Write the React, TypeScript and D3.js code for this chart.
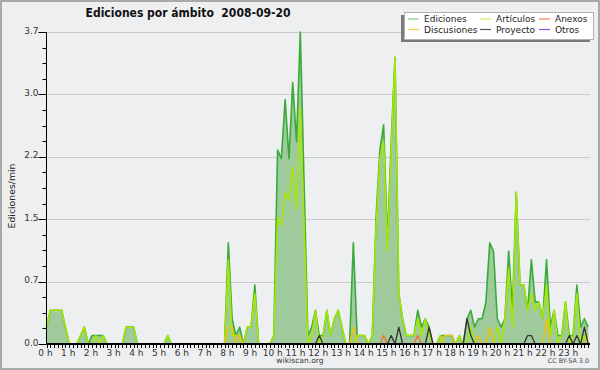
import { useRef, useEffect } from 'react';
import * as d3 from 'd3';

// edits per minute, 10-minute bins, 2008-09-20 (two hours per row)
const ediciones = [
  0.2, 0.4, 0.4, 0.4, 0.4, 0.2, 0, 0, 0, 0.1, 0.2, 0,
  0.1, 0.1, 0.1, 0.1, 0, 0, 0, 0, 0, 0.2, 0.2, 0.2,
  0, 0, 0, 0, 0, 0, 0, 0, 0.1, 0, 0, 0,
  0, 0, 0, 0, 0, 0, 0, 0, 0, 0, 0, 0,
  1.2, 0.3, 0.1, 0.2, 0, 0.2, 0.2, 0.7, 0, 0, 0, 0,
  0.1, 2.3, 2.2, 2.9, 2.2, 3.1, 2.4, 3.7, 1.9, 0.1, 0.2, 0.4,
  0.1, 0.1, 0.4, 0.1, 0.3, 0.4, 0.2, 0, 0, 1.2, 0.1, 0.1,
  0.1, 0, 0.1, 1.5, 2.3, 2.6, 1.2, 2.4, 3.4, 0.6, 0.3, 0.1,
  0.1, 0.1, 0.4, 0.2, 0.3, 0.2, 0, 0, 0.1, 0.1, 0.1, 0.1,
  0, 0.1, 0, 0.3, 0.4, 0.2, 0.3, 0.3, 0.5, 1.2, 1.1, 0.3,
  0.2, 0.3, 1.1, 0.4, 1.8, 0.7, 0.7, 0.4, 1.0, 0.5, 0.5, 0.3,
  1.0, 0.2, 0.4, 0.1, 0.1, 0.5, 0.1, 0.1, 0.7, 0.2, 0.3, 0.2,
];

const articulos = [
  0.2, 0.4, 0.4, 0.4, 0.4, 0.2, 0, 0, 0, 0.1, 0.2, 0,
  0, 0.1, 0, 0.1, 0, 0, 0, 0, 0, 0.2, 0.2, 0.2,
  0, 0, 0, 0, 0, 0, 0, 0, 0.1, 0, 0, 0,
  0, 0, 0, 0, 0, 0, 0, 0, 0, 0, 0, 0,
  1.0, 0.1, 0.1, 0.1, 0, 0.2, 0.2, 0.6, 0, 0, 0, 0,
  0.1, 1.5, 1.4, 1.8, 1.7, 2.1, 1.6, 2.8, 1.4, 0, 0.1, 0.4,
  0, 0.1, 0.4, 0.1, 0.3, 0.4, 0.2, 0, 0, 0, 0.1, 0.1,
  0.1, 0, 0.1, 1.4, 2.2, 2.4, 1.1, 2.3, 3.4, 0.6, 0.3, 0.1,
  0.1, 0.1, 0.3, 0.1, 0.3, 0.1, 0, 0, 0.1, 0, 0, 0,
  0, 0.1, 0, 0, 0.2, 0, 0, 0, 0, 0, 0, 0.2,
  0, 0.3, 0.9, 0.2, 1.8, 0.7, 0.7, 0.4, 0.6, 0.4, 0.5, 0.3,
  0.7, 0.1, 0.4, 0, 0.1, 0.5, 0, 0.1, 0.6, 0, 0.1, 0,
];

const discusiones = [
  0, 0, 0, 0, 0, 0, 0, 0, 0, 0, 0, 0,
  0, 0, 0, 0, 0, 0, 0, 0, 0, 0, 0, 0,
  0, 0, 0, 0, 0, 0, 0, 0, 0, 0, 0, 0,
  0, 0, 0, 0, 0, 0, 0, 0, 0, 0, 0, 0,
  0.2, 0.2, 0, 0.1, 0, 0, 0, 0, 0, 0, 0, 0,
  0, 0, 0, 0, 0, 0, 0, 0, 0, 0, 0, 0,
  0, 0, 0, 0, 0, 0, 0, 0, 0, 0.2, 0, 0,
  0, 0, 0, 0, 0, 0, 0, 0, 0, 0, 0, 0,
  0, 0, 0, 0, 0, 0, 0, 0, 0, 0.1, 0.1, 0.1,
  0, 0, 0, 0, 0, 0, 0.1, 0, 0, 0.2, 0, 0,
  0, 0, 0, 0, 0, 0, 0, 0, 0, 0, 0, 0,
  0.3, 0, 0, 0, 0, 0, 0, 0, 0, 0, 0, 0.1,
];

const anexos = [
  0, 0, 0, 0, 0, 0, 0, 0, 0, 0, 0, 0,
  0, 0, 0, 0, 0, 0, 0, 0, 0, 0, 0, 0,
  0, 0, 0, 0, 0, 0, 0, 0, 0, 0, 0, 0,
  0, 0, 0, 0, 0, 0, 0, 0, 0, 0, 0, 0,
  0, 0, 0, 0, 0, 0, 0, 0, 0, 0, 0, 0,
  0, 0, 0, 0, 0, 0, 0, 0, 0, 0, 0, 0,
  0, 0, 0, 0, 0, 0, 0, 0, 0, 0, 0, 0,
  0, 0, 0, 0, 0, 0.1, 0, 0, 0, 0, 0, 0,
  0, 0, 0.1, 0, 0, 0, 0, 0, 0, 0, 0, 0,
  0, 0, 0, 0, 0, 0, 0, 0, 0, 0, 0, 0,
  0, 0, 0, 0, 0, 0, 0, 0, 0, 0, 0, 0,
  0, 0, 0, 0, 0, 0, 0, 0, 0, 0, 0, 0,
];

const proyecto = [
  0, 0, 0, 0, 0, 0, 0, 0, 0, 0, 0, 0,
  0, 0, 0, 0, 0, 0, 0, 0, 0, 0, 0, 0,
  0, 0, 0, 0, 0, 0, 0, 0, 0, 0, 0, 0,
  0, 0, 0, 0, 0, 0, 0, 0, 0, 0, 0, 0,
  0, 0, 0, 0, 0, 0, 0, 0, 0, 0, 0, 0,
  0, 0, 0, 0, 0, 0, 0, 0, 0, 0, 0, 0,
  0.1, 0, 0, 0, 0, 0, 0, 0, 0, 0, 0, 0,
  0, 0, 0, 0, 0, 0, 0, 0.1, 0, 0.2, 0, 0,
  0, 0, 0, 0, 0, 0.2, 0, 0, 0, 0, 0, 0,
  0, 0, 0, 0.3, 0.1, 0, 0, 0, 0, 0, 0, 0,
  0, 0, 0, 0, 0, 0, 0, 0.1, 0.1, 0, 0, 0,
  0, 0, 0, 0, 0, 0, 0.1, 0, 0.1, 0, 0.2, 0,
];

const otros = [
  0, 0, 0, 0, 0, 0, 0, 0, 0, 0, 0, 0,
  0, 0, 0, 0, 0, 0, 0, 0, 0, 0, 0, 0,
  0, 0, 0, 0, 0, 0, 0, 0, 0, 0, 0, 0,
  0, 0, 0, 0, 0, 0, 0, 0, 0, 0, 0, 0,
  0, 0, 0, 0, 0, 0, 0, 0, 0, 0, 0, 0,
  0, 0, 0, 0, 0, 0, 0, 0, 0, 0, 0, 0,
  0, 0, 0, 0, 0, 0, 0, 0, 0, 0, 0, 0,
  0, 0, 0, 0, 0, 0, 0, 0, 0, 0, 0, 0,
  0, 0, 0, 0, 0, 0, 0, 0, 0, 0, 0, 0,
  0, 0, 0, 0, 0, 0, 0, 0, 0, 0, 0, 0,
  0, 0, 0, 0, 0, 0, 0, 0, 0, 0, 0, 0,
  0, 0, 0, 0, 0, 0, 0, 0, 0, 0, 0, 0,
];

const hourLabels = [
  '0 h', '1 h', '2 h', '3 h', '4 h', '5 h', '6 h', '7 h', '8 h', '9 h', '10 h', '11 h',
  '12 h', '13 h', '14 h', '15 h', '16 h', '17 h', '18 h', '19 h', '20 h', '21 h', '22 h', '23 h',
];
const yTicks = [0, 0.74, 1.48, 2.22, 2.96, 3.7];

const legendRows = [
  ['Ediciones', 'Artículos', 'Anexos'],
  ['Discusiones', 'Proyecto', 'Otros'],
];

const colors: Record<string, string> = {
  Ediciones: '#3aab3a',
  Artículos: '#a8e800',
  Anexos: '#ff6a2a',
  Discusiones: '#f3c300',
  Proyecto: '#333333',
  Otros: '#9b3cf0',
};
const legendColors: Record<string, string> = {
  Ediciones: '#80d080',
  Artículos: '#c8ee50',
  Anexos: '#f08050',
  Discusiones: '#f5d040',
  Proyecto: '#555555',
  Otros: '#9050e0',
};

const FONT = "'DejaVu Sans', sans-serif";

export default function App() {
  const ref = useRef<SVGSVGElement>(null);

  useEffect(() => {
    if (!ref.current) return;
    const width = 600;
    const height = 370;
    const plot = { left: 46.5, right: 590, top: 32, bottom: 344 };

    const svg = d3.select(ref.current);
    svg.selectAll('*').remove();
    svg.attr('width', width).attr('height', height);

    svg
      .append('rect')
      .attr('x', 1)
      .attr('y', 1)
      .attr('width', width - 2)
      .attr('height', height - 2)
      .attr('fill', '#eeeff1')
      .attr('stroke', '#a9a9a9')
      .attr('stroke-width', 2);

    const x = d3.scaleLinear().domain([0, 144]).range([plot.left, 592]);
    const y = d3.scaleLinear().domain([0, 3.7]).range([plot.bottom, plot.top]);

    // grid
    svg
      .append('g')
      .selectAll('line')
      .data(yTicks.slice(1))
      .join('line')
      .attr('x1', plot.left)
      .attr('x2', plot.right)
      .attr('y1', (d) => Math.round(y(d)) + 0.5)
      .attr('y2', (d) => Math.round(y(d)) + 0.5)
      .attr('stroke', '#c9c9c9');

    const area = d3
      .area<number>()
      .x((_, i) => x(i))
      .y0(y(0))
      .y1((d) => y(d));
    const line = d3
      .line<number>()
      .x((_, i) => x(i))
      .y((d) => y(d));

    svg.append('path').attr('d', area(ediciones)).attr('fill', '#9fca9c');

    const series: [string, number[], number][] = [
      ['Ediciones', ediciones, 1.6],
      ['Artículos', articulos, 1.5],
      ['Discusiones', discusiones, 1.3],
      ['Anexos', anexos, 1.3],
      ['Proyecto', proyecto, 1.3],
      ['Otros', otros, 1.3],
    ];
    series.forEach(([name, vals, w]) => {
      svg
        .append('path')
        .attr('d', line(vals))
        .attr('fill', 'none')
        .attr('stroke', colors[name])
        .attr('stroke-width', w)
        .attr('stroke-linejoin', 'round');
    });

    // y axis
    const yAxis = svg.append('g');
    yAxis
      .append('line')
      .attr('x1', plot.left)
      .attr('x2', plot.left)
      .attr('y1', plot.top)
      .attr('y2', plot.bottom)
      .attr('stroke', '#000');
    const minor: number[] = [];
    for (let k = 0; k < yTicks.length - 1; k++) {
      const step = (yTicks[k + 1] - yTicks[k]) / 4;
      for (let j = 1; j < 4; j++) minor.push(yTicks[k] + step * j);
    }
    yAxis
      .selectAll('line.minor')
      .data(minor)
      .join('line')
      .attr('class', 'minor')
      .attr('x1', plot.left - 4)
      .attr('x2', plot.left)
      .attr('y1', (d) => Math.round(y(d)) + 0.5)
      .attr('y2', (d) => Math.round(y(d)) + 0.5)
      .attr('stroke', '#000');
    yAxis
      .selectAll('line.major')
      .data(yTicks)
      .join('line')
      .attr('class', 'major')
      .attr('x1', plot.left - 8)
      .attr('x2', plot.left)
      .attr('y1', (d) => Math.round(y(d)) + 0.5)
      .attr('y2', (d) => Math.round(y(d)) + 0.5)
      .attr('stroke', '#000');
    yAxis
      .selectAll('text')
      .data(yTicks)
      .join('text')
      .attr('x', plot.left - 8)
      .attr('y', (d) => y(d) + 1.5)
      .attr('text-anchor', 'end')
      .attr('font-family', FONT)
      .attr('font-size', 9)
      .attr('fill', '#333')
      .text((d) => d3.format('.1f')(d));

    // x axis
    const xAxis = svg.append('g');
    xAxis
      .selectAll('line.tick')
      .data(d3.range(144))
      .join('line')
      .attr('class', 'tick')
      .attr('x1', (d) => Math.round(x(d)) + 0.5)
      .attr('x2', (d) => Math.round(x(d)) + 0.5)
      .attr('y1', plot.bottom)
      .attr('y2', plot.bottom + 4)
      .attr('stroke', '#000');
    xAxis
      .append('line')
      .attr('x1', plot.left)
      .attr('x2', plot.right)
      .attr('y1', plot.bottom)
      .attr('y2', plot.bottom)
      .attr('stroke', '#000')
      .attr('stroke-width', 2);
    xAxis
      .selectAll('text')
      .data(hourLabels)
      .join('text')
      .attr('x', (_, h) => x(h * 6) - 1)
      .attr('y', 355.5)
      .attr('text-anchor', 'middle')
      .attr('font-family', FONT)
      .attr('font-size', 9)
      .attr('fill', '#333')
      .text((d) => d);

    // titles
    svg
      .append('text')
      .attr('x', 188)
      .attr('y', 17)
      .attr('text-anchor', 'middle')
      .attr('font-family', "'DejaVu Sans Condensed', 'DejaVu Sans', sans-serif")
      .attr('font-stretch', 'condensed')
      .attr('font-weight', 'bold')
      .attr('font-size', 12)
      .attr('fill', '#111')
      .attr('xml:space', 'preserve')
      .text('Ediciones por ámbito  2008-09-20');

    svg
      .append('text')
      .attr('transform', 'translate(15,196) rotate(-90)')
      .attr('text-anchor', 'middle')
      .attr('font-family', FONT)
      .attr('font-size', 9.3)
      .attr('fill', '#222')
      .text('Ediciones/min');

    svg
      .append('text')
      .attr('x', 300)
      .attr('y', 363)
      .attr('text-anchor', 'middle')
      .attr('font-family', FONT)
      .attr('font-size', 7.6)
      .attr('fill', '#333')
      .text('wikiscan.org');

    svg
      .append('text')
      .attr('x', 589)
      .attr('y', 363)
      .attr('text-anchor', 'end')
      .attr('font-family', FONT)
      .attr('font-size', 6.4)
      .attr('fill', '#444')
      .text('CC BY-SA 3.0');

    // legend
    const lg = svg.append('g');
    lg.append('rect')
      .attr('x', 401)
      .attr('y', 15)
      .attr('width', 189)
      .attr('height', 27)
      .attr('fill', '#7a7a7a');
    lg.append('rect')
      .attr('x', 404.5)
      .attr('y', 12.5)
      .attr('width', 189)
      .attr('height', 27)
      .attr('fill', '#fff')
      .attr('stroke', '#b0b0b0');
    const colX = [408, 480, 539];
    const rowY = [19, 29.5];
    legendRows.forEach((row, r) => {
      row.forEach((name, c) => {
        lg.append('line')
          .attr('x1', colX[c])
          .attr('x2', colX[c] + 11)
          .attr('y1', rowY[r])
          .attr('y2', rowY[r])
          .attr('stroke', legendColors[name])
          .attr('stroke-width', 1.2);
        lg.append('text')
          .attr('x', colX[c] + 16)
          .attr('y', rowY[r] + 3)
          .attr('font-family', FONT)
          .attr('font-size', 9)
          .attr('fill', '#222')
          .text(name);
      });
    });
  }, []);

  return <svg ref={ref} style={{ position: 'absolute', left: 0, top: 0 }}></svg>;
}
